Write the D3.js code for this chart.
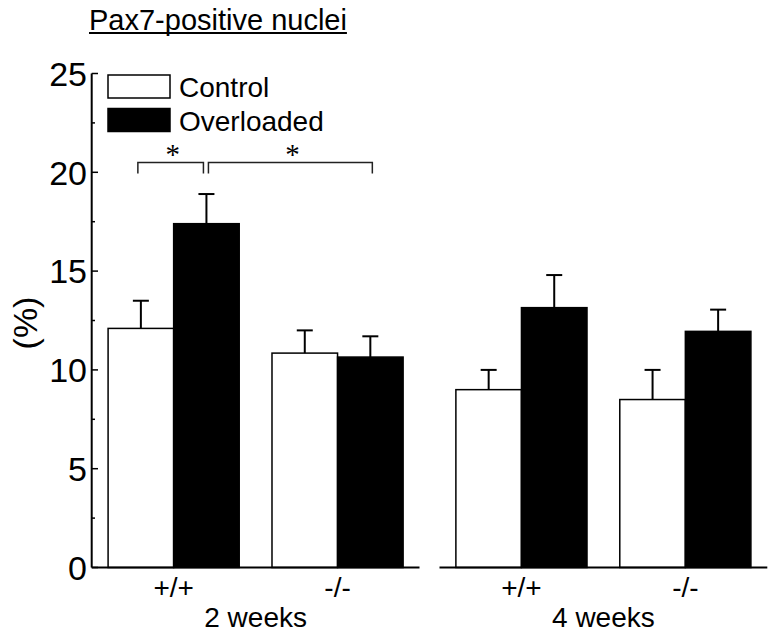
<!DOCTYPE html>
<html>
<head>
<meta charset="utf-8">
<script src="https://cdn.jsdelivr.net/npm/d3@7"></script>
<style>
  body { margin: 0; background: #fff; }
  text { font-family: "Liberation Sans", Arial, sans-serif; fill: #000; }
</style>
</head>
<body>
<script>
// data
const periods = ["2 weeks", "4 weeks"];
const genotypes = ["+/+", "-/-"];
const series = ["Control", "Overloaded"];
const controlMean = [12.1, 10.85, 9.0, 8.5];
const controlSem = [1.4, 1.15, 1.0, 1.5];
const overloadMean = [17.4, 10.65, 13.15, 11.95];
const overloadSem = [1.5, 1.05, 1.65, 1.1];
const yTicks = [0, 5, 10, 15, 20, 25];
const yMinor = [2.5, 7.5, 12.5, 17.5, 22.5];

const width = 775, height = 635;

const svg = d3.select("body").append("svg")
  .attr("width", width)
  .attr("height", height);

// rows: one per bar
const rows = [];
periods.forEach((p, pi) => {
  genotypes.forEach((g, gi) => {
    const k = pi * 2 + gi;
    rows.push({ period: p, geno: g, series: "Control", mean: controlMean[k], sem: controlSem[k] });
    rows.push({ period: p, geno: g, series: "Overloaded", mean: overloadMean[k], sem: overloadSem[k] });
  });
});

const y = d3.scaleLinear().domain([0, 25]).range([567.5, 73.5]);

const xPanel = d3.scaleBand().domain(periods).range([91.7, 767.3]).paddingInner(20 / 348);
const xGeno = d3.scaleBand().domain(genotypes).range([0, xPanel.bandwidth()]).paddingInner(0.2).paddingOuter(0.1);
const xSer = d3.scaleBand().domain(series).range([0, xGeno.bandwidth()]);

function barX(d) { return xPanel(d.period) + xGeno(d.geno) + xSer(d.series); }
function barC(d) { return barX(d) + xSer.bandwidth() / 2; }

// bars
svg.append("g").selectAll("rect").data(rows).enter().append("rect")
  .attr("x", d => barX(d))
  .attr("y", d => y(d.mean))
  .attr("width", xSer.bandwidth())
  .attr("height", d => y(0) - y(d.mean))
  .attr("fill", d => d.series == "Control" ? "#fff" : "#000")
  .attr("stroke", "#000")
  .attr("stroke-width", 1.5);

// error bars (upper only)
const eb = svg.append("g").attr("stroke", "#000").attr("stroke-width", 2);
rows.forEach(d => {
  eb.append("line")
    .attr("x1", barC(d)).attr("x2", barC(d))
    .attr("y1", y(d.mean)).attr("y2", y(d.mean + d.sem));
  eb.append("line")
    .attr("x1", barC(d) - 8).attr("x2", barC(d) + 8)
    .attr("y1", y(d.mean + d.sem)).attr("y2", y(d.mean + d.sem));
});

// x axis lines, one per panel
periods.forEach(p => {
  svg.append("line")
    .attr("x1", xPanel(p)).attr("x2", xPanel(p) + xPanel.bandwidth())
    .attr("y1", y(0)).attr("y2", y(0))
    .attr("stroke", "#000").attr("stroke-width", 2);

  genotypes.forEach(g => {
    svg.append("text")
      .attr("x", xPanel(p) + xGeno(g) + xGeno.bandwidth() / 2)
      .attr("y", 597)
      .attr("text-anchor", "middle")
      .style("font-size", "28px")
      .text(g);
  });

  svg.append("text")
    .attr("x", xPanel(p) + xPanel.bandwidth() / 2)
    .attr("y", 627)
    .attr("text-anchor", "middle")
    .style("font-size", "28px")
    .text(p);
});

// y axis
const ax = svg.append("g");
ax.append("line")
  .attr("x1", 91.7).attr("x2", 91.7)
  .attr("y1", y(0)).attr("y2", y(25))
  .attr("stroke", "#000").attr("stroke-width", 2);
ax.selectAll(".maj").data(yTicks).enter().append("line")
  .attr("x1", 91.7).attr("x2", 98)
  .attr("y1", d => y(d)).attr("y2", d => y(d))
  .attr("stroke", "#000").attr("stroke-width", 1.5);
ax.selectAll(".min").data(yMinor).enter().append("line")
  .attr("x1", 91.7).attr("x2", 95)
  .attr("y1", d => y(d)).attr("y2", d => y(d))
  .attr("stroke", "#000").attr("stroke-width", 1.5);
ax.selectAll("text").data(yTicks).enter().append("text")
  .attr("x", 87)
  .attr("y", d => y(d))
  .attr("dy", "0.36em")
  .attr("text-anchor", "end")
  .style("font-size", "34px")
  .text(d => d);

svg.append("text")
  .attr("transform", "translate(25 323) rotate(-90)")
  .attr("text-anchor", "middle")
  .attr("dy", "0.35em")
  .style("font-size", "34px")
  .text("(%)");

// title with underline
const title = svg.append("text")
  .attr("x", 89).attr("y", 30)
  .style("font-size", "29px")
  .text("Pax7-positive nuclei");
const tw = title.node().getComputedTextLength();
svg.append("line")
  .attr("x1", 89).attr("x2", 89 + tw)
  .attr("y1", 33).attr("y2", 33)
  .attr("stroke", "#000").attr("stroke-width", 2);

// legend
series.forEach((s, i) => {
  svg.append("rect")
    .attr("x", 108).attr("y", 75 + i * 33.5)
    .attr("width", 62).attr("height", 23)
    .attr("fill", s == "Control" ? "#fff" : "#000")
    .attr("stroke", "#000").attr("stroke-width", 1.5);
  svg.append("text")
    .attr("x", 179).attr("y", 97 + i * 33.5)
    .style("font-size", "28px")
    .text(s);
});

// significance brackets
const byKey = (g, s) => rows.find(r => r.period == "2 weeks" && r.geno == g && r.series == s);
const brackets = [
  [barC(byKey("+/+", "Control")) - 3, barC(byKey("+/+", "Overloaded")) - 3],
  [barC(byKey("+/+", "Overloaded")) + 2, barC(byKey("-/-", "Overloaded")) + 2]
];
const by = 162.5;
brackets.forEach(b => {
  svg.append("path")
    .attr("d", `M${b[0]},${by + 11}V${by}H${b[1]}V${by + 11}`)
    .attr("fill", "none")
    .attr("stroke", "#222")
    .attr("stroke-width", 1.5);
  svg.append("text")
    .attr("x", (b[0] + b[1]) / 2 + 2)
    .attr("y", by + 1)
    .attr("text-anchor", "middle")
    .style("font-family", "'Liberation Serif', 'Times New Roman', serif")
    .style("font-size", "29px")
    .text("*");
});
</script>
</body>
</html>
